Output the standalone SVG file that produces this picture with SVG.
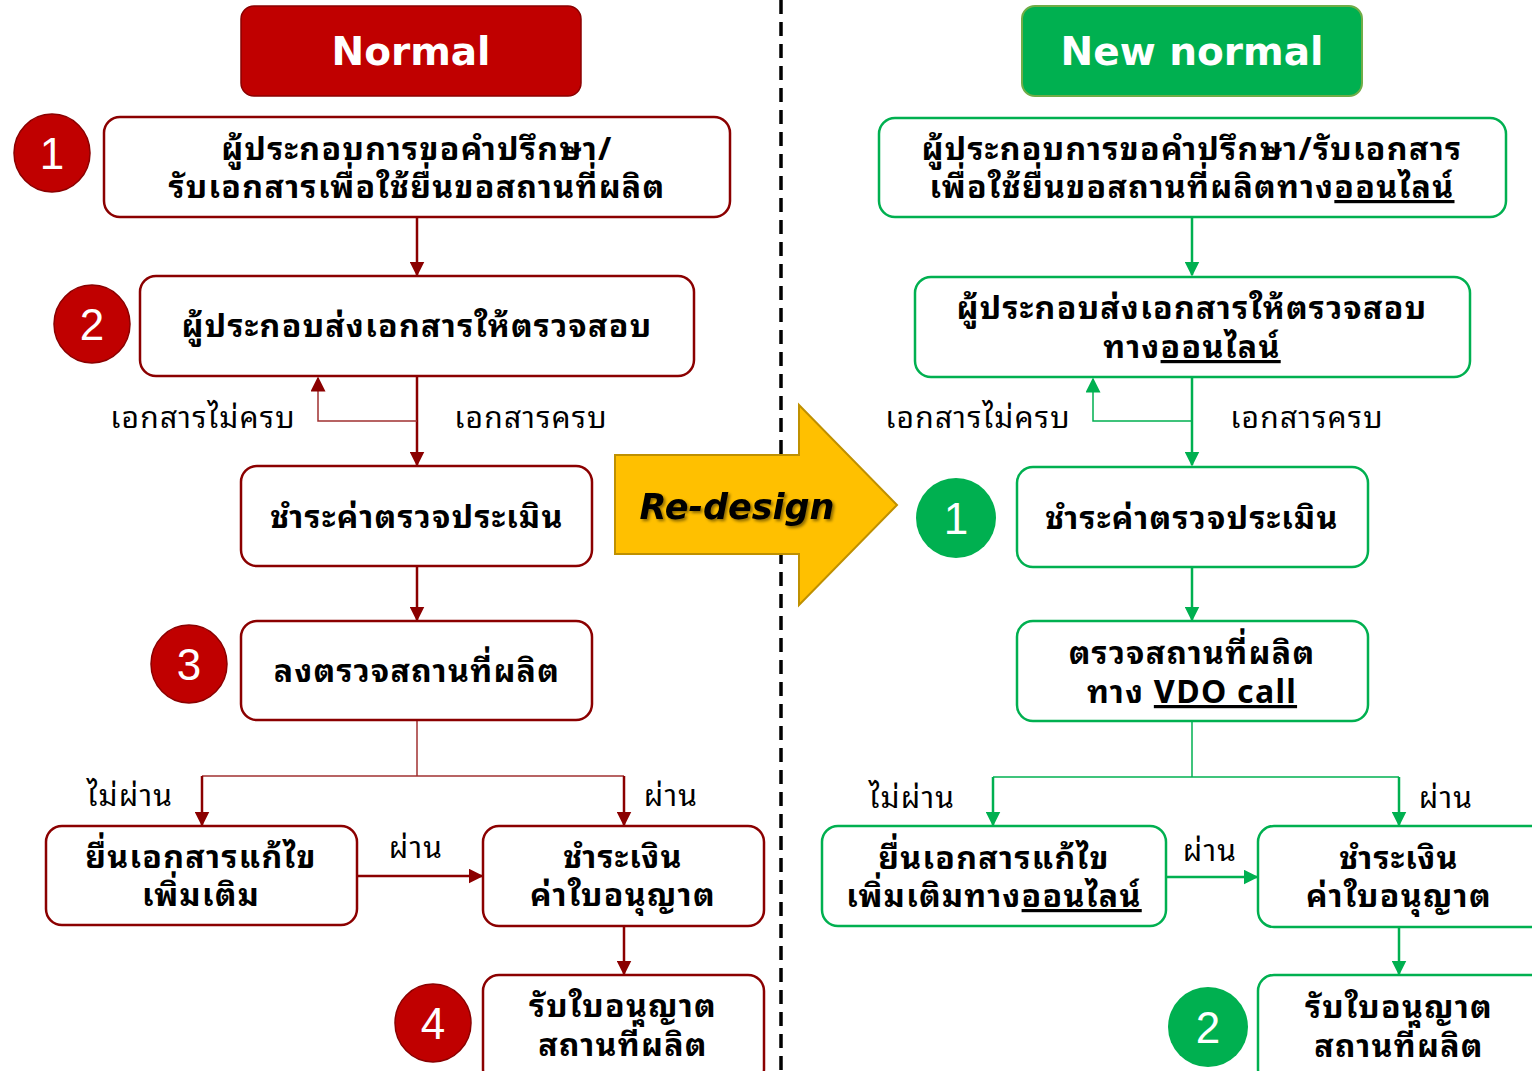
<svg xmlns="http://www.w3.org/2000/svg" width="1532" height="1071" viewBox="0 0 1532 1071">
<defs>
<style>
.t{font-family:"Noto Sans Thai Looped","Noto Serif Thai","Noto Sans Thai","DejaVu Sans",sans-serif;font-weight:bold;font-size:32px;letter-spacing:1.3px;fill:#000;text-anchor:middle}
.l{font-family:"Noto Sans Thai Looped","Noto Serif Thai","Noto Sans Thai","DejaVu Sans",sans-serif;font-size:30px;letter-spacing:1.2px;fill:#000;text-anchor:middle}
.rb{fill:#fff;stroke:#8B0000;stroke-width:2.5}
.gb{fill:#fff;stroke:#00B050;stroke-width:2.5}
.rc{fill:#C00000;stroke:#8B0000;stroke-width:1.5}
.gc{fill:#00B050}
.num{font-family:"Liberation Sans",sans-serif;font-size:44px;fill:#fff;text-anchor:middle}
.rl{stroke:#8B0000;stroke-width:2.5;fill:none}
.rt{stroke:#A03030;stroke-width:1.5;fill:none}
.gl{stroke:#00B050;stroke-width:2.5;fill:none}
.gt{stroke:#00B050;stroke-width:1.5;fill:none}
.hd{font-family:"DejaVu Sans","Liberation Sans",sans-serif;font-weight:bold;font-size:39px;fill:#fff;text-anchor:middle}
</style>
<marker id="ar" viewBox="0 0 10 10" refX="9" refY="5" markerWidth="15" markerHeight="15" markerUnits="userSpaceOnUse" orient="auto"><path d="M0,0 L10,5 L0,10 z" fill="#8B0000"/></marker>
<marker id="ag" viewBox="0 0 10 10" refX="9" refY="5" markerWidth="15" markerHeight="15" markerUnits="userSpaceOnUse" orient="auto"><path d="M0,0 L10,5 L0,10 z" fill="#00B050"/></marker>
<filter id="sh" x="-10%" y="-10%" width="130%" height="140%"><feDropShadow dx="2" dy="2" stdDeviation="1.5" flood-color="#000" flood-opacity="0.45"/></filter>
</defs>
<rect width="1532" height="1071" fill="#fff"/>
<line x1="781" y1="0" x2="781" y2="1071" stroke="#000" stroke-width="3.5" stroke-dasharray="14,8"/>

<g id="connectors">
<line class="rl" x1="417" y1="218" x2="417" y2="275" marker-end="url(#ar)"/>
<line class="rl" x1="417" y1="377" x2="417" y2="465" marker-end="url(#ar)"/>
<polyline class="rt" points="417,421 318,421 318,378" marker-end="url(#ar)"/>
<line class="rl" x1="417" y1="567" x2="417" y2="620" marker-end="url(#ar)"/>
<polyline class="rt" points="417,721 417,776"/>
<polyline class="rt" points="202,776 624,776"/>
<line class="rl" x1="202" y1="776" x2="202" y2="825" marker-end="url(#ar)"/>
<line class="rl" x1="624" y1="776" x2="624" y2="825" marker-end="url(#ar)"/>
<line class="rl" x1="358" y1="876" x2="482" y2="876" marker-end="url(#ar)"/>
<line class="rl" x1="624" y1="927" x2="624" y2="974" marker-end="url(#ar)"/>

<line class="gl" x1="1192" y1="218" x2="1192" y2="275" marker-end="url(#ag)"/>
<line class="gl" x1="1192" y1="378" x2="1192" y2="465" marker-end="url(#ag)"/>
<polyline class="gt" points="1192,421 1093,421 1093,379" marker-end="url(#ag)"/>
<line class="gl" x1="1192" y1="568" x2="1192" y2="620" marker-end="url(#ag)"/>
<polyline class="gt" points="1192,722 1192,777"/>
<polyline class="gt" points="993,777 1399,777"/>
<line class="gl" x1="993" y1="777" x2="993" y2="825" marker-end="url(#ag)"/>
<line class="gl" x1="1399" y1="777" x2="1399" y2="825" marker-end="url(#ag)"/>
<line class="gl" x1="1167" y1="877" x2="1257" y2="877" marker-end="url(#ag)"/>
<line class="gl" x1="1399" y1="928" x2="1399" y2="974" marker-end="url(#ag)"/>
</g>

<g id="labels">
<text class="l" x="203" y="428">เอกสารไม่ครบ</text>
<text class="l" x="531" y="428">เอกสารครบ</text>
<text class="l" x="130" y="806">ไม่ผ่าน</text>
<text class="l" x="671" y="806">ผ่าน</text>
<text class="l" x="416" y="858">ผ่าน</text>
<text class="l" x="978" y="428">เอกสารไม่ครบ</text>
<text class="l" x="1307" y="428">เอกสารครบ</text>
<text class="l" x="912" y="808">ไม่ผ่าน</text>
<text class="l" x="1446" y="808">ผ่าน</text>
<text class="l" x="1210" y="861">ผ่าน</text>
</g>

<g id="normal-title">
<rect x="241" y="6" width="340" height="90" rx="13" fill="#C00000" stroke="#8B0000" stroke-width="1.5"/>
<text class="hd" x="411" y="65">Normal</text>
</g>
<g id="newnormal-title">
<rect x="1022" y="6" width="340" height="90" rx="13" fill="#00B050" stroke="#70AD47" stroke-width="2"/>
<text class="hd" x="1192" y="65">New normal</text>
</g>

<g id="n1">
<rect class="rb" x="104" y="117" width="626" height="100" rx="16"/>
<text class="t" x="417" y="160">ผู้ประกอบการขอคำปรึกษา/</text>
<text class="t" x="417" y="198">รับเอกสารเพื่อใช้ยื่นขอสถานที่ผลิต</text>
</g>
<g id="c1"><ellipse class="rc" cx="52" cy="153" rx="38" ry="39"/><text class="num" x="52" y="169">1</text></g>
<g id="n2">
<rect class="rb" x="140" y="276" width="554" height="100" rx="16"/>
<text class="t" x="417" y="337">ผู้ประกอบส่งเอกสารให้ตรวจสอบ</text>
</g>
<g id="c2"><ellipse class="rc" cx="92" cy="324" rx="38" ry="39"/><text class="num" x="92" y="340">2</text></g>
<g id="n3">
<rect class="rb" x="241" y="466" width="351" height="100" rx="16"/>
<text class="t" x="417" y="528">ชำระค่าตรวจประเมิน</text>
</g>
<g id="n4">
<rect class="rb" x="241" y="621" width="351" height="99" rx="16"/>
<text class="t" x="417" y="682">ลงตรวจสถานที่ผลิต</text>
</g>
<g id="c3"><ellipse class="rc" cx="189" cy="664" rx="38" ry="39"/><text class="num" x="189" y="680">3</text></g>
<g id="n5">
<rect class="rb" x="46" y="826" width="311" height="99" rx="16"/>
<text class="t" x="201" y="868">ยื่นเอกสารแก้ไข</text>
<text class="t" x="201" y="906">เพิ่มเติม</text>
</g>
<g id="n6">
<rect class="rb" x="483" y="826" width="281" height="100" rx="16"/>
<text class="t" x="623" y="868">ชำระเงิน</text>
<text class="t" x="623" y="906">ค่าใบอนุญาต</text>
</g>
<g id="n7">
<rect class="rb" x="483" y="975" width="281" height="110" rx="16"/>
<text class="t" x="623" y="1017">รับใบอนุญาต</text>
<text class="t" x="623" y="1056">สถานที่ผลิต</text>
</g>
<g id="c4"><ellipse class="rc" cx="433" cy="1023" rx="38" ry="39"/><text class="num" x="433" y="1039">4</text></g>

<g id="m1">
<rect class="gb" x="879" y="118" width="627" height="99" rx="16"/>
<text class="t" x="1192" y="160">ผู้ประกอบการขอคำปรึกษา/รับเอกสาร</text>
<text class="t" x="1192" y="198">เพื่อใช้ยื่นขอสถานที่ผลิตทาง<tspan text-decoration="underline">ออนไลน์</tspan></text>
</g>
<g id="m2">
<rect class="gb" x="915" y="277" width="555" height="100" rx="16"/>
<text class="t" x="1192" y="319">ผู้ประกอบส่งเอกสารให้ตรวจสอบ</text>
<text class="t" x="1192" y="358">ทาง<tspan text-decoration="underline">ออนไลน์</tspan></text>
</g>
<g id="m3">
<rect class="gb" x="1017" y="467" width="351" height="100" rx="16"/>
<text class="t" x="1192" y="529">ชำระค่าตรวจประเมิน</text>
</g>
<g id="d1"><ellipse class="gc" cx="956" cy="518" rx="40" ry="40"/><text class="num" x="956" y="534">1</text></g>
<g id="m4">
<rect class="gb" x="1017" y="621" width="351" height="100" rx="16"/>
<text class="t" x="1192" y="664">ตรวจสถานที่ผลิต</text>
<text class="t" x="1192" y="703">ทาง <tspan text-decoration="underline">VDO call</tspan></text>
</g>
<g id="m5">
<rect class="gb" x="822" y="826" width="344" height="100" rx="16"/>
<text class="t" x="994" y="869">ยื่นเอกสารแก้ไข</text>
<text class="t" x="994" y="907">เพิ่มเติมทาง<tspan text-decoration="underline">ออนไลน์</tspan></text>
</g>
<g id="m6">
<rect class="gb" x="1258" y="826" width="290" height="101" rx="16"/>
<text class="t" x="1399" y="869">ชำระเงิน</text>
<text class="t" x="1399" y="907">ค่าใบอนุญาต</text>
</g>
<g id="m7">
<rect class="gb" x="1258" y="975" width="290" height="110" rx="16"/>
<text class="t" x="1399" y="1018">รับใบอนุญาต</text>
<text class="t" x="1399" y="1057">สถานที่ผลิต</text>
</g>
<g id="d2"><ellipse class="gc" cx="1208" cy="1027" rx="40" ry="40"/><text class="num" x="1208" y="1043">2</text></g>

<g id="redesign">
<polygon points="615,455 799,455 799,405 897,505 799,605 799,554 615,554" fill="#FFC000" stroke="#BF9000" stroke-width="2"/>
<text x="737" y="519" filter="url(#sh)" style="font-family:'DejaVu Sans','Liberation Sans',sans-serif;font-weight:bold;font-style:italic;font-size:35px;fill:#000;text-anchor:middle">Re-design</text>
</g>
</svg>
